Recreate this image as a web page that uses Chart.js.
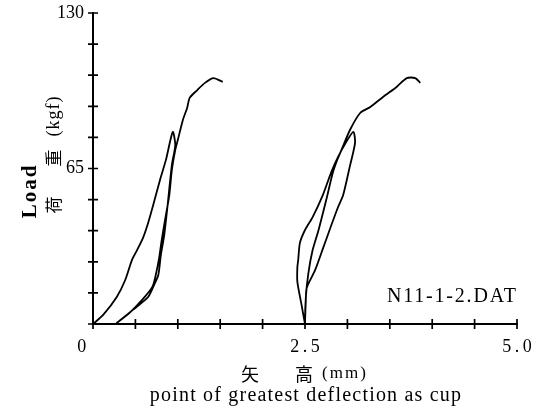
<!DOCTYPE html>
<html lang="ja">
<head>
    <meta charset="UTF-8" />
    <title>N11-1-2.DAT 荷重-矢高</title>
    <style>
        body {
            margin: 0;
            background: #fff;
        }
        #chart {
            display: block;
        }
    </style>
</head>
<body>
    <canvas id="chart" width="537" height="410"></canvas>

    <script src="https://cdn.jsdelivr.net/npm/chart.js"></script>
    <script>
        // first test (starts at 0 mm): load, unload, reload to failure
        const trace1X = [0, 0.12, 0.28, 0.38, 0.46, 0.52, 0.59, 0.65, 0.71, 0.79, 0.86, 0.94,
            0.97, 0.93, 0.88, 0.84, 0.80, 0.77, 0.72, 0.65, 0.47, 0.28,
            0.44, 0.59, 0.70, 0.74, 0.78, 0.81, 0.86, 0.90, 0.93, 0.97, 1.00, 1.06, 1.11, 1.14, 1.23, 1.32, 1.42, 1.53];
        const trace1Y = [0, 3.8, 11.3, 18.4, 26.8, 30.9, 36.0, 42.2, 49.7, 60.2, 68.6, 80.3,
            74.8, 66.5, 49.7, 37.2, 28.8, 20.5, 16.3, 11.3, 5.9, 0.4,
            5.0, 10.5, 15.5, 20.5, 27.6, 35.1, 45.6, 53.9, 64.4, 72.7, 76.9, 85.3, 90.3, 94.5, 97.8, 100.8, 102.8, 101.2];

        // second test (shifted to 2.5 mm)
        const trace2X = [2.50, 2.46, 2.41, 2.41, 2.42, 2.44, 2.50, 2.59, 2.71, 2.81, 2.89, 2.98, 3.07,
            3.09, 3.03, 2.95, 2.89, 2.79, 2.71, 2.62, 2.52, 2.51, 2.50,
            2.51, 2.54, 2.59, 2.66, 2.75, 2.83, 2.88, 2.94, 3.03, 3.15, 3.27, 3.42, 3.58, 3.70, 3.80, 3.86];
        const trace2Y = [0, 7.9, 17.6, 23.8, 26.8, 33.9, 39.3, 44.7, 53.9, 63.5, 69.8, 75.7, 80.3,
            75.7, 66.1, 53.9, 48.9, 39.3, 31.4, 22.6, 15.1, 10.0, 0.8,
            11.3, 21.3, 30.9, 39.3, 51.8, 63.5, 68.6, 73.6, 81.1, 88.2, 90.7, 94.9, 99.1, 102.8, 102.8, 100.8];

        const xLabels = {0: '0     ', 2.5: '2\u2009.\u20095', 5: '5\u2009.\u20090'};
        const yLabels = {65: '65', 130: '130'};

        const serif = '"Liberation Serif", "DejaVu Serif", serif';
        const cjk = '"Noto Sans CJK JP", sans-serif';

        function toPoints(xs, ys) {
            return xs.map((x, i) => ({x: x, y: ys[i]}));
        }

        function rotatedText(ctx, text, x, y, font, spacing, baseline) {
            ctx.save();
            ctx.translate(x, y);
            ctx.rotate(-Math.PI / 2);
            ctx.font = font;
            ctx.letterSpacing = spacing || '0px';
            ctx.textAlign = 'center';
            ctx.textBaseline = baseline || 'middle';
            ctx.fillText(text, 0, 0);
            ctx.restore();
        }

        // cross ticks on both axes + titles and file name
        const paperPlugin = {
            id: 'paper',
            afterDraw(chart) {
                const ctx = chart.ctx;
                const xs = chart.scales.x;
                const ys = chart.scales.y;
                const x0 = xs.getPixelForValue(0);
                const y0 = ys.getPixelForValue(0);

                ctx.save();
                ctx.strokeStyle = '#000';
                ctx.lineWidth = 1.7;
                ctx.beginPath();
                xs.ticks.forEach(t => {
                    const px = xs.getPixelForValue(t.value);
                    ctx.moveTo(px, y0 - 5);
                    ctx.lineTo(px, y0 + 5);
                });
                ys.ticks.forEach(t => {
                    const py = ys.getPixelForValue(t.value);
                    ctx.moveTo(x0 - 5, py);
                    ctx.lineTo(x0 + 5, py);
                });
                ctx.stroke();

                ctx.fillStyle = '#000';
                rotatedText(ctx, 'Load', 36, 191, 'bold 21px ' + serif, '2px', 'alphabetic');
                rotatedText(ctx, '荷', 54, 205, '17px ' + cjk);
                rotatedText(ctx, '重', 54, 158, '17px ' + cjk);
                rotatedText(ctx, '(kgf)', 54, 116, '18px ' + serif, '1px');

                ctx.textBaseline = 'middle';
                ctx.textAlign = 'center';
                ctx.font = '18px ' + cjk;
                ctx.fillText('矢', 250, 374);
                ctx.fillText('高', 304, 374);
                ctx.font = '17px ' + serif;
                ctx.letterSpacing = '2px';
                ctx.fillText('(mm)', 345, 374);

                ctx.textBaseline = 'alphabetic';
                ctx.font = '20px ' + serif;
                ctx.letterSpacing = '1.2px';
                ctx.fillText('point of greatest deflection as cup', 306, 401);

                ctx.textAlign = 'left';
                ctx.letterSpacing = '1.8px';
                ctx.fillText('N11-1-2.DAT', 387, 302);
                ctx.restore();
            }
        };

        const lineStyle = {
            showLine: true,
            borderColor: '#000',
            borderWidth: 1.8,
            pointRadius: 0,
            tension: 0.25,
            fill: false
        };

        new Chart(document.getElementById('chart'), {
            type: 'scatter',
            data: {
                datasets: [
                    Object.assign({label: 'test 1', data: toPoints(trace1X, trace1Y)}, lineStyle),
                    Object.assign({label: 'test 2', data: toPoints(trace2X, trace2Y)}, lineStyle)
                ]
            },
            options: {
                responsive: false,
                animation: false,
                devicePixelRatio: 1,
                layout: {padding: {top: 13, right: 20, left: 0, bottom: 0}},
                plugins: {
                    legend: {display: false},
                    tooltip: {enabled: false}
                },
                scales: {
                    x: {
                        type: 'linear',
                        min: 0,
                        max: 5,
                        border: {display: true, color: '#000', width: 2},
                        grid: {display: false, drawTicks: false},
                        ticks: {
                            stepSize: 0.5,
                            autoSkip: false,
                            maxRotation: 0,
                            padding: 12,
                            color: '#000',
                            font: {family: serif, size: 18},
                            callback: v => xLabels[v] || ''
                        },
                        afterFit: s => {
                            s.height = 86;
                            s.paddingLeft = 0;
                            s.paddingRight = 0;
                        }
                    },
                    y: {
                        min: 0,
                        max: 130,
                        border: {display: true, color: '#000', width: 2},
                        grid: {display: false, drawTicks: false},
                        ticks: {
                            stepSize: 13,
                            autoSkip: false,
                            padding: 9,
                            color: '#000',
                            font: {family: serif, size: 18},
                            callback: v => yLabels[v] || ''
                        },
                        afterFit: s => {
                            s.width = 93;
                            s.paddingTop = 0;
                            s.paddingBottom = 0;
                        }
                    }
                }
            },
            plugins: [paperPlugin]
        });
    </script>
</body>
</html>
